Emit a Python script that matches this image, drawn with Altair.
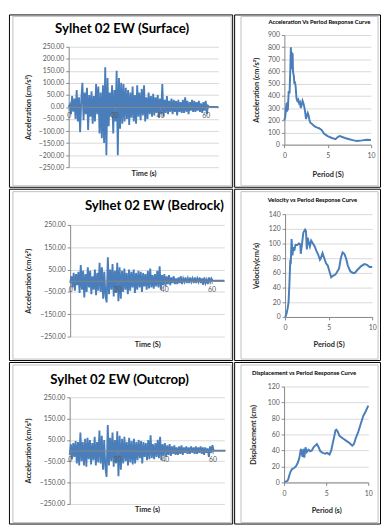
import altair as alt
import pandas as pd

FONT = "Lato"
LINE = "#4A7EBB"
GRID = "#D9D9D9"
AXIS = "#868686"
LABEL = "#595959"
ATITLE = "#262626"

time_step = 0.5
surface_acc = [
    0, 10, -30, 45, -20, 35, -50, 70, -60, 40, -105,
    30, 100, -55, 60, -30, 80, -95, 50, -40, 65,
    -70, 45, -60, 95, -30, 85, -110, 60, -130, 90,
    -150, 165, -200, 120, -80, 60, -40, 90, -110, 70,
    -60, 150, -200, 120, -90, 100, -70, 95, -60, 80,
    -50, 70, -75, 60, -45, 85, -60, 50, -70, 90,
    -40, 60, -55, 75, -35, 90, -60, 40, -50, 60,
    -30, 45, -40, 55, -35, 40, -25, 50, -45, 35,
    -30, 95, -40, 30, -25, 45, -30, 25, -20, 35,
    -30, 30, -20, 25, -35, 30, -20, 20, -25, 30,
    -25, 40, -20, 25, -30, 20, -15, 30, -20, 25,
    -20, 20, -15, 25, -20, 15, -25, 20, -15, 25,
    -30, 5, 0, 0, 0, 0, 0, 0, 0, 0, 0,
]
bedrock_acc = [
    -10, 20, -30, 35, -45, 30, -20, 40, -55, 70, -40,
    45, -75, 30, -50, 60, -30, 45, -60, 20, -40,
    50, -65, 35, -45, 80, -50, 60, -80, 40, -70,
    -97, 105, -60, 50, -40, 75, -70, 45, -55, 80,
    -92, 60, -80, 45, -50, 55, -40, 35, -60, 50,
    -45, 40, -30, 50, -55, 35, -40, 45, -30, 40,
    -50, 35, -25, 30, -40, 45, -35, 55, -30, 25,
    -35, 30, -25, 45, -30, 65, -40, 25, -20, 30,
    -25, 20, -15, 25, -20, 15, -10, 20, -15, 10,
    -15, 15, -10, 20, -15, 10, -5, 15, -10, 10,
    -10, 15, -5, 10, -10, 15, -10, 10, -5, 15,
    -10, 10, -18, 15, -10, 5, -15, 15, -5, 10,
    0, 0, 0, 0, 0, 0, 0, 0, 0, 0, 0,
]
outcrop_acc = [
    -20, 30, -40, 35, -30, 45, -60, 40, -70, 85, -50,
    40, -70, 55, -75, 60, -40, 50, -65, 35, -45,
    65, -70, 40, -55, 94, -60, 70, -90, 50, -80,
    -123, 120, -70, 60, -50, 85, -75, 50, -60, 90,
    -120, 70, -90, 55, -60, 65, -50, 40, -70, 60,
    -55, 45, -65, 55, -60, 40, -45, 50, -35, 45,
    -60, 40, -30, 35, -45, 50, -40, 72, -35, 30,
    -40, 35, -30, 50, -35, 65, -45, 30, -25, 35,
    -30, 25, -20, 30, -25, 20, -15, 25, -20, 15,
    -20, 20, -15, 25, -20, 15, -10, 20, -15, 15,
    -15, 20, -10, 15, -15, 20, -15, 15, -10, 20,
    -15, 15, -20, 15, -10, 10, -30, 20, -10, 25,
    0, 0, 0, 0, 0, 0, 0, 0, 0, 0, 0,
]

# ---- response spectra ----
acc_period = [0.0, 0.1, 0.2, 0.25, 0.3, 0.35, 0.4, 0.5, 0.6, 0.7, 0.75, 0.8, 0.85,
              0.9, 0.95, 1.0, 1.1, 1.15, 1.2, 1.3, 1.4, 1.5, 1.6, 1.7, 1.8, 1.9,
              2.0, 2.1, 2.2, 2.3, 2.4, 2.5, 2.6, 2.7, 2.8, 2.9, 3.0, 3.2, 3.5,
              3.8, 4.0, 4.3, 4.6, 5.0, 5.5, 5.9, 6.2, 6.4, 7.0, 7.5, 8.0, 8.4,
              9.0, 9.5, 10.0]
acc_sa = [200, 230, 300, 340, 270, 350, 280, 440, 420, 650, 800, 620, 760,
          700, 750, 600, 560, 500, 520, 480, 380, 360, 370, 340, 350, 300,
          330, 360, 340, 310, 270, 210, 240, 260, 240, 200, 180, 170, 150,
          140, 135, 120, 90, 70, 55, 45, 65, 70, 55, 45, 35, 30,
          35, 40, 38]

vel_period = [0.0, 0.1, 0.2, 0.3, 0.4, 0.5, 0.6, 0.65, 0.75, 0.85, 0.95, 1.05,
              1.2, 1.4, 1.6, 1.75, 1.8, 1.95, 2.1, 2.3, 2.4, 2.5, 2.6, 2.75,
              2.85, 3.0, 3.2, 3.4, 3.6, 3.8, 4.0, 4.1, 4.3, 4.5, 4.7, 4.9, 5.1,
              5.3, 5.5, 5.8, 6.0, 6.2, 6.4, 6.6, 6.8, 7.0, 7.2, 7.5, 7.8, 8.0,
              8.3, 8.7, 9.1, 9.4, 9.7, 10.0]
vel_sv = [0, 2, 6, 12, 20, 45, 78, 72, 106, 84, 95, 90,
          98, 98, 100, 99, 86, 100, 115, 119, 117, 92, 108, 100,
          96, 104, 100, 96, 90, 85, 78, 80, 87, 80, 73, 70, 62,
          54, 56, 58, 62, 66, 80, 88, 86, 80, 70, 62, 60, 60,
          64, 69, 72, 71, 68, 68]

disp_period = [0.0, 0.2, 0.4, 0.5, 0.6, 0.75, 0.9, 1.0, 1.2, 1.4, 1.6, 1.8, 2.0,
               2.1, 2.2, 2.3, 2.4, 2.55, 2.7, 2.9, 3.1, 3.3, 3.5, 3.7, 3.9,
               4.1, 4.3, 4.6, 4.9, 5.1, 5.4, 5.6, 5.8, 5.95, 6.1, 6.2, 6.35,
               6.6, 7.0, 7.4, 7.8, 8.1, 8.3, 8.5, 8.8, 9.1, 9.4, 9.7, 10.0]
disp_sd = [1, 1, 2, 4, 8, 13, 16, 17, 18, 20, 24, 30, 42,
           36, 32, 42, 31, 44, 38, 41, 39, 40, 44, 46, 48,
           44, 39, 37, 36, 37, 35, 40, 50, 57, 65, 66, 64,
           58, 55, 52, 49, 46, 48, 55, 63, 73, 83, 89, 96]

def th_df(vals):
    return pd.DataFrame({"x": [i * time_step for i in range(len(vals))], "y": vals})

def sp_df(px, vals):
    return pd.DataFrame({"x": px, "y": vals})


def panel(df, W, H, xr, xdom, xvals, xfmt, xoff, xtitle, xtitleY,
          yr, ydom, yvals, yfmt, yoff, ytitle, ytitleX,
          title, tx, ty, tsize, frame, lfs, tfs, xlabpad, lw):
    one = pd.DataFrame({"t": [title]})
    fr = alt.Chart(one).mark_rect(fillOpacity=0, stroke="#BFBFBF", strokeWidth=1).encode(
        x=alt.value(frame[0]), x2=alt.value(frame[1]),
        y=alt.value(frame[2]), y2=alt.value(frame[3]))
    line = alt.Chart(df).mark_line(color=LINE, strokeWidth=lw).encode(
        x=alt.X("x:Q",
                scale=alt.Scale(domain=xdom, range=xr, nice=False, zero=False),
                axis=alt.Axis(values=xvals, format=xfmt, offset=xoff, grid=False, zindex=1,
                              title=xtitle, titleY=xtitleY, titleBaseline="middle",
                              titleFontSize=tfs, titleFontWeight="bold", titleColor=ATITLE,
                              labelFlush=False, labelFontSize=lfs, labelColor=LABEL,
                              labelPadding=xlabpad, tickSize=3, tickColor=AXIS,
                              domainColor=AXIS)),
        y=alt.Y("y:Q",
                scale=alt.Scale(domain=ydom, range=yr, nice=False, zero=False),
                axis=alt.Axis(values=yvals, format=yfmt, offset=yoff, grid=True,
                              gridColor=GRID, title=ytitle, titleX=ytitleX,
                              titleBaseline="middle", titleAngle=270,
                              titleFontSize=tfs, titleFontWeight="bold", titleColor=ATITLE,
                              labelFlush=False, labelFontSize=lfs, labelColor=LABEL,
                              labelPadding=2, tickSize=3, tickColor=AXIS,
                              domainColor=AXIS)),
    )
    tt = alt.Chart(one).mark_text(font=FONT, fontSize=tsize, fontWeight="bold",
                                  align="center", baseline="alphabetic", color="black").encode(
        text="t:N", x=alt.value(tx), y=alt.value(ty))
    return alt.layer(fr, line, tt).properties(width=W, height=H)


acc_ticks = [-250, -200, -150, -100, -50, 0, 50, 100, 150, 200, 250]
acc_ticks2 = [-250, -150, -50, 50, 150, 250]
time_ticks = [0, 20, 40, 60]
per_ticks = [0, 5, 10]

p1 = panel(th_df(surface_acc), 228, 176, [61, 214], [0, 65.6], time_ticks, "d", -81.5,
           "Time (s)", 68.5,
           [156, 33], [-250, 250], acc_ticks, ".2f", -61, "Acceleration (cm/s²)", -41,
           "Sylhet 02 EW (Surface)", 115.5, 19, 13.5, [4, 227, 2, 175], 7, 7.5, 2, 1.9)
p2 = panel(sp_df(acc_period, acc_sa), 149, 176, [51.3, 139.7], [0, 10], per_ticks, "d", -43,
           "Period (S)", 31,
           [133, 21], [0, 900], list(range(0, 901, 100)), "d", -51.3, "Acceleration (cm/s²)", -28.3,
           "Acceleration Vs Period Response Curve", 87, 10, 6, [7, 147, 2, 175], 7, 7.5, 4, 2)
p3 = panel(th_df(bedrock_acc), 228, 175, [62.5, 220], [0, 65.5], time_ticks, "d", -81,
           "Time (S)", 65,
           [151, 37], [-250, 250], acc_ticks2, ".2f", -62.5, "Acceleration (cm/s²)", -42.5,
           "Sylhet 02 EW (Bedrock)", 148.5, 22, 13.5, [4, 227, 3, 174], 7, 7.5, 2, 1.9)
p4 = panel(sp_df(vel_period, vel_sv), 149, 175, [52, 141], [0, 10], per_ticks, "d", -44,
           "Period (S)", 28,
           [131, 26], [0, 140], list(range(0, 141, 20)), "d", -52, "Velocity(cm/s)", -29,
           "Velocity vs  Period  Response Curve", 80, 14, 6, [7, 147, 3, 174], 7, 7.5, 4, 2)
p5 = panel(th_df(outcrop_acc), 228, 165, [62, 220], [0, 65], time_ticks, "d", -74.5,
           "Time (s)", 60.5,
           [145, 36], [-250, 250], acc_ticks2, ".2f", -62, "Acceleration (cm/s²)", -42,
           "Sylhet 02 EW  (Outcrop)", 113, 22, 13.5, [4, 227, 3, 164], 7, 7.5, 2, 1.9)
p6 = panel(sp_df(disp_period, disp_sd), 149, 165, [51, 137], [0, 10], per_ticks, "d", -42,
           "Period (s)", 29,
           [123, 25], [0, 120], list(range(0, 121, 20)), "d", -51, "Displacement (cm)", -31,
           "Displacement vs Period Response Curve", 71.5, 13, 6, [7, 147, 3, 164], 7, 7.5, 4, 2)

chart = alt.concat(p1, p2, p3, p4, p5, p6, columns=2, spacing=0, align="each",
                   padding={"left": 0, "top": 0, "right": 0, "bottom": 0},
                   background="white").configure_view(
    stroke="black", strokeWidth=1).configure_axis(
    labelFont=FONT, titleFont=FONT).configure_text(font=FONT)

chart.save("out.html", embed_options={"renderer": "svg", "actions": False})
